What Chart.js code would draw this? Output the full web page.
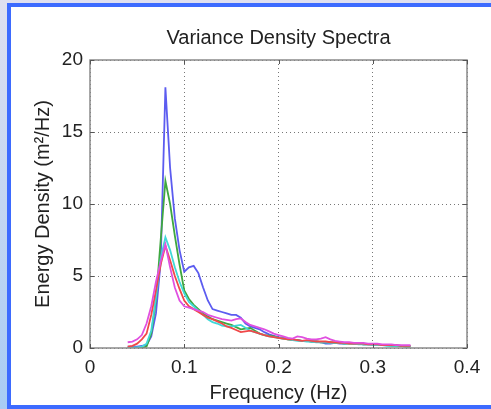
<!DOCTYPE html>
<html>
<head>
<meta charset="utf-8">
<script src="https://cdn.jsdelivr.net/npm/chart.js@4/dist/chart.umd.min.js"></script>
<style>
  body { margin: 0; width: 491px; height: 409px; overflow: hidden;
         background: linear-gradient(#dfe0f0, #a8ccf4); position: relative; }
  #frame { position: absolute; left: 7px; top: 3px; width: 490px; height: 398px;
           background: #fff; border: 4px solid #3d6bff; border-right: none; }
  #wrap { position: absolute; left: 0; top: 0; width: 491px; height: 409px; }
</style>
</head>
<body>
<div id="frame"></div>
<div id="wrap"><canvas id="spectra"></canvas></div>
<script>
// frecuencias (Hz)
const freq = [0.040,0.045,0.050,0.055,0.060,0.065,0.070,0.075,0.080,0.085,
              0.090,0.095,0.100,0.105,0.110,0.115,0.120,0.125,0.130,0.135,
              0.140,0.145,0.150,0.155,0.160,0.165,0.170,0.175,0.180,0.185,
              0.190,0.195,0.200,0.205,0.210,0.215,0.220,0.225,0.230,0.235,
              0.240,0.245,0.250,0.255,0.260,0.265,0.270,0.275,0.280,0.285,
              0.290,0.295,0.300,0.305,0.310,0.315,0.320,0.325,0.330,0.335,0.340];

const blueS = [0.1,0.1,0.1,0.15,0.2,0.8,2.4,6.0,18.1,12.5,9.0,6.8,5.3,5.6,5.7,5.2,4.2,3.3,2.7,2.6,
               2.5,2.4,2.3,2.3,2.1,1.7,1.5,1.4,1.3,1.1,0.95,0.85,0.75,0.7,0.65,0.6,0.55,0.5,0.5,0.45,
               0.45,0.4,0.3,0.3,0.35,0.3,0.3,0.35,0.3,0.3,0.25,0.25,0.25,0.2,0.2,0.2,0.2,0.2,0.15,0.15,0.15];
const greenS = [0,0,0,0,0.1,1.0,3.3,7.5,11.6,10.0,7.8,5.8,4.0,3.4,3.0,2.7,2.4,2.2,2.0,1.9,
                1.8,1.7,1.6,1.45,1.3,1.35,1.4,1.2,1.0,0.9,0.85,0.8,0.7,0.65,0.6,0.55,0.55,0.5,0.5,0.45,
                0.45,0.4,0.4,0.4,0.35,0.35,0.3,0.3,0.3,0.3,0.25,0.25,0.25,0.2,0.2,0.2,0.15,0.15,0.15,0.1,0.1];
const cyanS = [0.05,0.05,0.05,0.1,0.3,1.2,3.5,6.2,7.7,6.8,5.6,4.6,3.8,3.2,2.9,2.6,2.3,2.0,1.8,1.7,
               1.55,1.5,1.5,1.55,1.6,1.4,1.2,1.1,1.0,0.9,0.8,0.75,0.7,0.65,0.6,0.55,0.5,0.5,0.45,0.45,
               0.4,0.4,0.4,0.35,0.35,0.35,0.3,0.3,0.3,0.25,0.25,0.25,0.2,0.2,0.2,0.15,0.15,0.15,0.15,0.1,0.1];
const redS = [0.1,0.15,0.3,0.6,1.0,2.3,4.0,5.8,7.1,6.1,5.0,4.1,3.3,2.9,2.7,2.5,2.3,2.1,2.0,1.85,
              1.7,1.5,1.4,1.25,1.1,1.15,1.2,1.1,1.0,0.9,0.8,0.75,0.7,0.65,0.6,0.6,0.55,0.5,0.55,0.5,
              0.45,0.45,0.45,0.4,0.4,0.35,0.35,0.3,0.3,0.3,0.3,0.25,0.25,0.25,0.2,0.2,0.2,0.2,0.15,0.15,0.15];
const magentaS = [0.4,0.45,0.6,0.9,1.7,2.9,4.6,6.0,7.2,5.6,4.2,3.3,2.9,2.8,2.7,2.6,2.5,2.3,2.2,2.1,
                  2.0,1.95,1.9,2.0,2.05,1.8,1.6,1.5,1.4,1.3,1.15,1.0,0.9,0.8,0.7,0.65,0.8,0.75,0.65,0.6,
                  0.6,0.65,0.75,0.6,0.5,0.45,0.4,0.4,0.35,0.35,0.35,0.3,0.3,0.3,0.25,0.25,0.25,0.2,0.2,0.2,0.2];

const xTicks = [0, 0.1, 0.2, 0.3, 0.4];
const yTicks = [0, 5, 10, 15, 20];
const titulo = 'Variance Density Spectra';

const tickFont = { family: 'Liberation Sans, Arial, sans-serif', size: 19, weight: 'normal' };
const txtFont = { family: 'Liberation Sans, Arial, sans-serif', size: 20, weight: 'normal' };

function serie(vals, color) {
    return {
        data: freq.map((f, i) => ({ x: f, y: vals[i] })),
        borderColor: color,
        borderWidth: 1.8,
        pointRadius: 0,
        tension: 0,
        fill: false
    };
}

// caja, marcas interiores y titulo centrado sobre los ejes
const cajaEjes = {
    id: 'cajaEjes',
    afterDraw(chart) {
        const { ctx, chartArea: a, scales } = chart;
        ctx.save();
        ctx.strokeStyle = '#8a8a8a';
        ctx.lineWidth = 1.5;
        ctx.strokeRect(a.left, a.top, a.right - a.left, a.bottom - a.top);
        ctx.lineWidth = 1;
        ctx.strokeStyle = '#555';
        ctx.beginPath();
        xTicks.forEach(t => {
            const px = Math.round(scales.x.getPixelForValue(t)) + 0.5;
            ctx.moveTo(px, a.bottom); ctx.lineTo(px, a.bottom - 4);
            ctx.moveTo(px, a.top); ctx.lineTo(px, a.top + 4);
        });
        yTicks.forEach(t => {
            const py = Math.round(scales.y.getPixelForValue(t)) + 0.5;
            ctx.moveTo(a.left, py); ctx.lineTo(a.left + 4, py);
            ctx.moveTo(a.right, py); ctx.lineTo(a.right - 4, py);
        });
        ctx.stroke();
        ctx.fillStyle = '#222';
        ctx.font = '20px "Liberation Sans", Arial, sans-serif';
        ctx.textAlign = 'center';
        ctx.textBaseline = 'middle';
        ctx.fillText(titulo, (a.left + a.right) / 2, a.top - 22);
        ctx.restore();
    }
};

const spectra = new Chart('spectra', {
    type: 'line',
    data: {
        datasets: [
            serie(magentaS, '#e050e0'),
            serie(redS, '#f04848'),
            serie(cyanS, '#40d8d8'),
            serie(greenS, '#3fa83f'),
            serie(blueS, '#5c5cf0')
        ]
    },
    options: {
        responsive: true,
        maintainAspectRatio: false,
        animation: false,
        layout: { padding: { left: 0, right: 24, top: 60, bottom: 0 } },
        plugins: {
            legend: { display: false },
            tooltip: { enabled: false },
            title: { display: false }
        },
        scales: {
            x: {
                type: 'linear',
                min: 0, max: 0.4,
                afterFit: s => { s.height = 61; },
                afterBuildTicks: s => { s.ticks = xTicks.map(v => ({ value: v })); },
                ticks: { color: '#222', font: tickFont, padding: 8, maxRotation: 0 },
                grid: { color: '#777', drawTicks: false },
                border: { display: false, dash: [1, 3] },
                title: { display: true, text: 'Frequency (Hz)', color: '#222', font: txtFont, padding: { top: 0, bottom: 4 } }
            },
            y: {
                min: 0, max: 20,
                afterFit: s => { s.width = 90; },
                afterBuildTicks: s => { s.ticks = yTicks.map(v => ({ value: v })); },
                ticks: { color: '#222', font: tickFont, padding: 7 },
                grid: { color: '#777', drawTicks: false },
                border: { display: false, dash: [1, 3] },
                title: { display: true, text: 'Energy Density (m²/Hz)', color: '#222', font: txtFont, padding: { top: 31, bottom: 0 } }
            }
        }
    },
    plugins: [cajaEjes]
});
</script>
</body>
</html>
